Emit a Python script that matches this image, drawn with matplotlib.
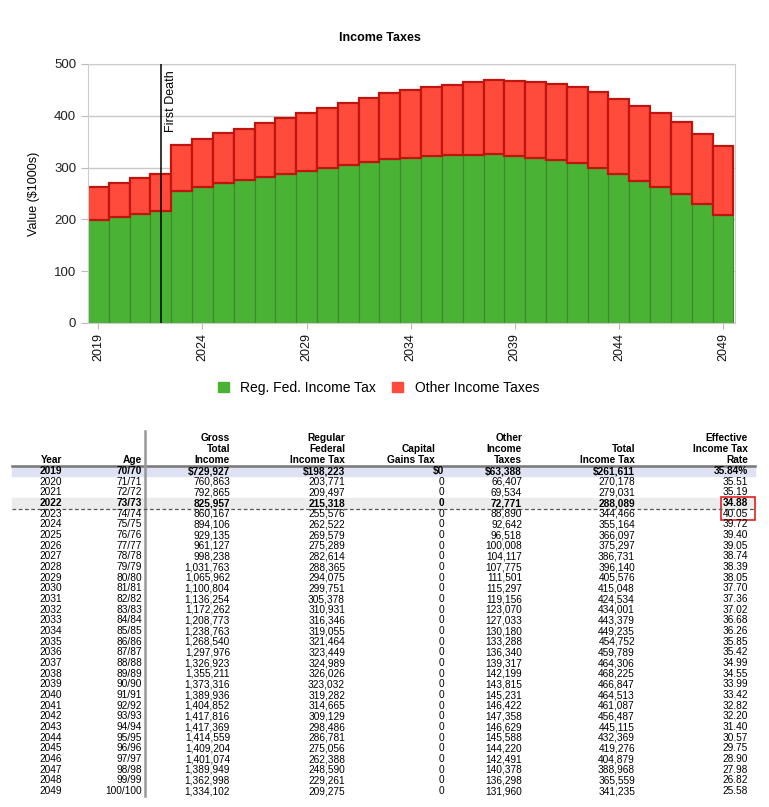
import numpy as np
import matplotlib
matplotlib.use("Agg")
import matplotlib.pyplot as plt
from matplotlib.patches import Rectangle, Patch

plt.rcParams['font.family'] = ['Liberation Sans', 'DejaVu Sans']

years = list(range(2019, 2050))
ages = [f"{a}/{a}" for a in range(70, 101)]
gross = [729927, 760863, 792865, 825957, 860167, 894106, 929135, 961127, 998238,
         1031763, 1065962, 1100804, 1136254, 1172262, 1208773, 1238763, 1268540,
         1297976, 1326923, 1355211, 1373316, 1389936, 1404852, 1417816, 1417369,
         1414559, 1409204, 1401074, 1389949, 1362998, 1334102]
reg_fed = [198223, 203771, 209497, 215318, 255576, 262522, 269579, 275289, 282614,
           288365, 294075, 299751, 305378, 310931, 316346, 319055, 321464, 323449,
           324989, 326026, 323032, 319282, 314665, 309129, 298486, 286781, 275056,
           262388, 248590, 229261, 209275]
cap_gains = [0] * 31
other = [63388, 66407, 69534, 72771, 88890, 92642, 96518, 100008, 104117, 107775,
         111501, 115297, 119156, 123070, 127033, 130180, 133288, 136340, 139317,
         142199, 143815, 145231, 146422, 147358, 146629, 145588, 144220, 142491,
         140378, 136298, 131960]
total = [261611, 270178, 279031, 288089, 344466, 355164, 366097, 375297, 386731,
         396140, 405576, 415048, 424534, 434001, 443379, 449235, 454752, 459789,
         464306, 468225, 466847, 464513, 461087, 456487, 445115, 432369, 419276,
         404879, 388968, 365559, 341235]
rate = [35.84, 35.51, 35.19, 34.88, 40.05, 39.72, 39.40, 39.05, 38.74, 38.39, 38.05,
        37.70, 37.36, 37.02, 36.68, 36.26, 35.85, 35.42, 34.99, 34.55, 33.99, 33.42,
        32.82, 32.20, 31.40, 30.57, 29.75, 28.90, 27.98, 26.82, 25.58]
first_death = 2022

W, H = 769, 807
fig = plt.figure(figsize=(W / 100, H / 100), dpi=100)

# table layer, drawn in pixel coordinates
tab = fig.add_axes([0, 0, 1, 1])
tab.set_xlim(0, W)
tab.set_ylim(H, 0)
tab.axis('off')
tab.patch.set_visible(False)

# chart
ax = fig.add_axes([88 / W, 1 - 323 / H, 647 / W, 259 / H])
rf = np.array(reg_fed) / 1000
ot = np.array(other) / 1000
green, red = '#4ab234', '#ff4b3c'
ax.bar(years, rf, width=1.0, color=green, edgecolor='#3b8a2c', linewidth=0.8,
       zorder=2, label='Reg. Fed. Income Tax')
ax.bar(years, ot, bottom=rf, width=1.0, color=red, edgecolor='#c0150f',
       linewidth=1.6, zorder=2, label='Other Income Taxes')
ax.axvline(first_death, color='black', linewidth=1.1, zorder=3)
ax.text(first_death + 0.2, 488, 'First Death', rotation=90, ha='left', va='top',
        fontsize=9, zorder=4)
ax.set_xlim(2018.5, 2049.58)
ax.set_ylim(0, 500)
ax.set_yticks([0, 100, 200, 300, 400, 500])
ax.set_xticks(range(2019, 2050, 5))
ax.tick_params(axis='x', rotation=90, labelsize=9, length=4, color='#bbbbbb',
               labelcolor='#111111')
ax.tick_params(axis='y', labelsize=9.5, length=5, color='#bbbbbb',
               labelcolor='#222222')
ax.yaxis.grid(True, color='#c8c8c8', linewidth=1, zorder=0)
ax.set_axisbelow(True)
for s in ax.spines.values():
    s.set_color('#cccccc')
ax.set_ylabel('Value ($1000s)', fontsize=9, labelpad=10)
fig.text(0.494, 1 - 38 / H, 'Income Taxes', ha='center', va='center',
         fontsize=9, fontweight='bold')
handles = [Patch(color=green), Patch(color=red)]
fig.legend(handles, ['Reg. Fed. Income Tax', 'Other Income Taxes'], ncol=2,
           loc='center', bbox_to_anchor=(0.492, 1 - 388 / H), frameon=False,
           fontsize=10, handlelength=0.8, handleheight=0.8, handletextpad=0.8,
           columnspacing=1.2)

# table
fs = 7.3
col_right = [62, 142, 230, 345, 444, 522, 635, 748]
head_right = [62, 142, 230, 345, 435, 522, 635, 748]
headers = [['Year'], ['Age'], ['Gross', 'Total', 'Income'],
           ['Regular', 'Federal', 'Income Tax'], ['Capital', 'Gains Tax'],
           ['Other', 'Income', 'Taxes'], ['Total', 'Income Tax'],
           ['Effective', 'Income Tax', 'Rate']]
head_base = 460
line_h = 11
for x, lines in zip(head_right, headers):
    for i, t in enumerate(reversed(lines)):
        tab.text(x, head_base - i * line_h, t, ha='right', va='center',
                 fontsize=fs, fontweight='bold')

row0, step = 471, 10.67
x0, x1 = 12, 755
tab.add_patch(Rectangle((x0, row0 - 5), x1 - x0, 10, color='#dfe2f2', zorder=0))
i22 = years.index(first_death)
tab.add_patch(Rectangle((x0, row0 + i22 * step - 5), x1 - x0, 10,
                        color='#ececec', zorder=0))
tab.plot([x0, x1], [466, 466], color='#777777', linewidth=1.8)
tab.plot([145, 145], [431, 796], color='#999999', linewidth=1.8)
tab.plot([x0, x1], [row0 + i22 * step + 5.5] * 2, color='#555555',
         linewidth=0.9, linestyle=(0, (3, 2)))

for i, y in enumerate(years):
    yy = row0 + i * step
    if i == 0:
        cells = [str(y), ages[i], f"${gross[i]:,}", f"${reg_fed[i]:,}",
                 f"${cap_gains[i]:,}", f"${other[i]:,}", f"${total[i]:,}",
                 f"{rate[i]:.2f}%"]
    else:
        cells = [str(y), ages[i], f"{gross[i]:,}", f"{reg_fed[i]:,}",
                 f"{cap_gains[i]:,}", f"{other[i]:,}", f"{total[i]:,}",
                 f"{rate[i]:.2f}"]
    bold = i == 0 or y == first_death
    for x, c in zip(col_right, cells):
        tab.text(x, yy, c, ha='right', va='center', fontsize=fs,
                 fontweight='bold' if bold else 'normal')

# red box round the jump in the effective rate
tab.add_patch(Rectangle((720.5, row0 + i22 * step - 6), 34, 2 * step + 2,
                        fill=False, edgecolor='#e02020', linewidth=1.2))

fig.savefig('out.png', dpi=100)
